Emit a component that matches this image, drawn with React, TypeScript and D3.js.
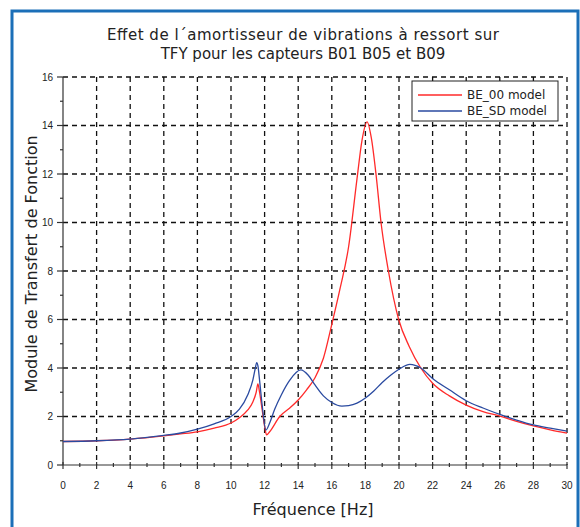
import React from 'react';
import * as d3 from 'd3';

// frequency (Hz) and transfer function modulus
const freqBE00 = [0, 2, 4, 6, 7, 8, 9, 10, 10.5, 11, 11.3, 11.5, 11.6, 11.7, 11.85, 12.0, 12.12, 12.3, 12.9, 13.5, 14, 14.5, 15, 15.5, 16, 16.5, 17, 17.5, 17.8, 18.1, 18.35, 18.63, 18.93, 19.37, 19.98, 20.6, 21.3, 22, 23, 24, 25, 26, 27, 28, 29, 30];
const valBE00 = [0.97, 1.0, 1.07, 1.2, 1.28, 1.37, 1.52, 1.73, 1.95, 2.27, 2.6, 3.0, 3.34, 3.0, 2.3, 1.6, 1.24, 1.37, 2.0, 2.35, 2.68, 3.1, 3.6, 4.4, 5.8, 7.3, 9.0, 11.8, 13.4, 14.15, 13.5, 12.0, 10.0, 8.0, 6.0, 4.9, 4.0, 3.37, 2.85, 2.47, 2.2, 2.02, 1.8, 1.61, 1.45, 1.31];

const freqBESD = [0, 2, 4, 6, 7, 8, 9, 10, 10.5, 11, 11.3, 11.45, 11.53, 11.6, 11.7, 11.85, 12.08, 12.3, 12.6, 13, 13.5, 14.15, 14.6, 15, 15.5, 16, 16.6, 17, 17.5, 18, 18.5, 19, 19.5, 20, 20.65, 21.3, 22, 23, 24, 25, 26, 27, 28, 29, 30];
const valBESD = [0.97, 1.0, 1.07, 1.22, 1.32, 1.48, 1.7, 2.0, 2.3, 2.9, 3.5, 4.0, 4.22, 4.1, 3.5, 2.5, 1.44, 1.73, 2.3, 2.9, 3.5, 3.92, 3.7, 3.3, 2.85, 2.58, 2.43, 2.45, 2.55, 2.76, 3.05, 3.4, 3.7, 3.95, 4.15, 4.0, 3.57, 3.1, 2.65, 2.35, 2.09, 1.85, 1.65, 1.52, 1.4];

const xTicks = d3.range(0, 31, 2);
const yTicks = d3.range(0, 17, 2);
const titleLines = ['Effet de l\u00b4amortisseur de vibrations à ressort sur', 'TFY pour les capteurs B01 B05 et B09'];
const seriesNames = ['BE_00 model', 'BE_SD model'];
const seriesColors = ['#ff2a2a', '#2a4aa0'];

const W = 580;
const H = 527;
const left = 63;
const right = 567;
const top = 77;
const bottom = 465;

export default function App() {
  const x = d3.scaleLinear().domain([0, 30]).range([left, right]);
  const y = d3.scaleLinear().domain([0, 16]).range([bottom, top]);

  const line = d3.line<[number, number]>()
    .x(d => x(d[0]))
    .y(d => y(d[1]))
    .curve(d3.curveMonotoneX);

  const red = freqBE00.map((f, i) => [f, valBE00[i]] as [number, number]);
  const blue = freqBESD.map((f, i) => [f, valBESD[i]] as [number, number]);

  const font = 'DejaVu Sans, sans-serif';
  const tickFont = 'Liberation Sans, Arial, sans-serif';
  const minorX = d3.range(1, 30, 2);
  const minorY = d3.range(1, 16, 2);

  return (
    <svg width={W} height={H} style={{ position: 'absolute', left: 0, top: 0, background: '#fff' }}>
      {/* blue frame */}
      <rect x={12} y={11} width={566} height={540} fill="none" stroke="#1b6fb8" strokeWidth={3} />

      {/* title */}
      <text x={303} y={40} textAnchor="middle" fontFamily={font} fontSize={15}
        textLength={392} lengthAdjust="spacing" fill="#222">{titleLines[0]}</text>
      <text x={303} y={59} textAnchor="middle" fontFamily={font} fontSize={15} fill="#222">{titleLines[1]}</text>

      {/* grid */}
      {xTicks.filter(t => t > 0).map(t => (
        <line key={'gx' + t} x1={x(t)} x2={x(t)} y1={top} y2={bottom} stroke="#111" strokeWidth={1.3} strokeDasharray="5,4" />
      ))}
      {yTicks.filter(t => t > 0).map(t => (
        <line key={'gy' + t} x1={left} x2={right} y1={y(t)} y2={y(t)} stroke="#111" strokeWidth={1.3} strokeDasharray="5,4" />
      ))}

      {/* axes */}
      <line x1={left} x2={left} y1={top} y2={bottom} stroke="#333" strokeWidth={1.2} />
      <line x1={left} x2={right} y1={bottom} y2={bottom} stroke="#333" strokeWidth={1.2} />
      {yTicks.map(t => (
        <g key={'ty' + t}>
          <line x1={left - 6} x2={left} y1={y(t)} y2={y(t)} stroke="#333" strokeWidth={1.2} />
          <text x={left - 10} y={y(t) + 3.5} textAnchor="end" fontFamily={tickFont} fontSize={10} fill="#222">{t}</text>
        </g>
      ))}
      {minorY.map(t => (
        <line key={'my' + t} x1={left - 3} x2={left} y1={y(t)} y2={y(t)} stroke="#333" strokeWidth={1.2} />
      ))}
      {xTicks.map(t => (
        <g key={'tx' + t}>
          <line x1={x(t)} x2={x(t)} y1={bottom - 3} y2={bottom + 4} stroke="#333" strokeWidth={1.2} />
          <text x={x(t)} y={bottom + 24} textAnchor="middle" fontFamily={tickFont} fontSize={10} fill="#222">{t}</text>
        </g>
      ))}
      {minorX.map(t => (
        <line key={'mx' + t} x1={x(t)} x2={x(t)} y1={bottom - 2} y2={bottom + 2} stroke="#333" strokeWidth={1.2} />
      ))}

      {/* curves */}
      <path d={line(red) || ''} fill="none" stroke={seriesColors[0]} strokeWidth={1.3} />
      <path d={line(blue) || ''} fill="none" stroke={seriesColors[1]} strokeWidth={1.3} />

      {/* legend */}
      <rect x={412} y={81} width={146} height={40} fill="#fff" stroke="#222" strokeWidth={1} />
      {seriesNames.map((n, i) => (
        <g key={n}>
          <line x1={418} x2={462} y1={95 + i * 16} y2={95 + i * 16} stroke={seriesColors[i]} strokeWidth={1.3} />
          <text x={467} y={99 + i * 16} fontFamily={font} fontSize={12} fill="#222">{n}</text>
        </g>
      ))}

      {/* axis titles */}
      <text x={313} y={515} textAnchor="middle" fontFamily={font} fontSize={16} fill="#222">Fréquence [Hz]</text>
      <text transform={`translate(37,264) rotate(-90)`} textAnchor="middle" fontFamily={font} fontSize={16} fill="#222">Module de Transfert de Fonction</text>
    </svg>
  );
}
